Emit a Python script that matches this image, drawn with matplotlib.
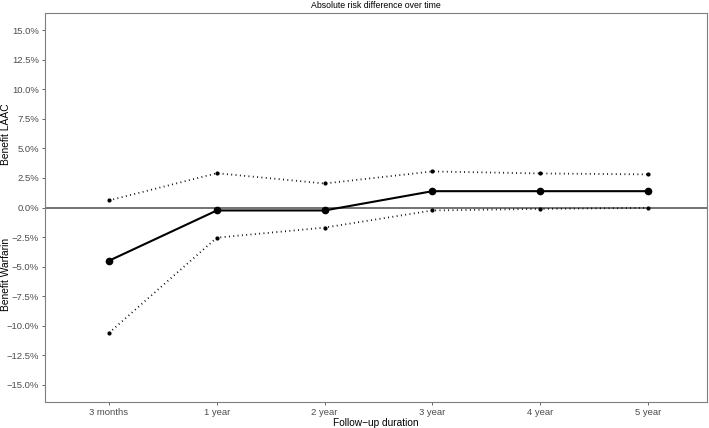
import matplotlib
matplotlib.use("Agg")
import matplotlib.pyplot as plt
from matplotlib.ticker import FuncFormatter

categories = ["3 months", "1 year", "2 year", "3 year", "4 year", "5 year"]
estimate = [-4.5, -0.25, -0.25, 1.38, 1.38, 1.38]
upper = [0.6, 2.9, 2.03, 3.05, 2.88, 2.8]
lower = [-10.6, -2.55, -1.7, -0.25, -0.12, -0.03]
yticks = [-15, -12.5, -10, -7.5, -5, -2.5, 0, 2.5, 5, 7.5, 10, 12.5, 15]

plt.rcParams['font.family'] = ['Liberation Sans', 'DejaVu Sans']

fig = plt.figure(figsize=(7.09, 4.28), dpi=100)
ax = fig.add_axes([45/709, 1-402/428, (707-45)/709, (402-13)/428])

x = list(range(len(categories)))
ax.axhline(0, color="#4d4d4d", lw=1.1, zorder=1)
ax.plot(x, estimate, color="black", lw=1.5, marker="o", ms=4.5, zorder=3)
ax.plot(x, upper, color="black", lw=1.3, ls=(0, (0.5, 1.9)), marker="o", ms=2, zorder=2)
ax.plot(x, lower, color="black", lw=1.3, ls=(0, (0.5, 1.9)), marker="o", ms=2, zorder=2)

ax.set_xlim(-0.594, 5.547)
ax.set_ylim(-16.45, 16.45)
ax.set_xticks(x)
ax.set_xticklabels(categories)
ax.set_yticks(yticks)
ax.yaxis.set_major_formatter(FuncFormatter(lambda v, p: f"{v:.1f}%".replace("-", "\u2212")))
ax.tick_params(axis="both", labelsize=6.8, labelcolor="#4d4d4d", color="#4d4d4d", length=2.5, width=0.6, pad=1.8)
for s in ax.spines.values():
    s.set_color("#7f7f7f")
    s.set_linewidth(0.8)

ax.set_xlabel("Follow\u2212up duration", fontsize=7.3, labelpad=1)
fig.text(6/709, 1-134/428, "Benefit LAAC", rotation=90, ha="center", va="center", fontsize=7.4)
fig.text(6/709, 1-274/428, "Benefit Warfarin", rotation=90, ha="center", va="center", fontsize=7.4)
fig.text((45+707)/2/709, 1-6/428, "Absolute risk difference over time", ha="center", va="center", fontsize=6.3)

fig.savefig("out.png", dpi=100)
